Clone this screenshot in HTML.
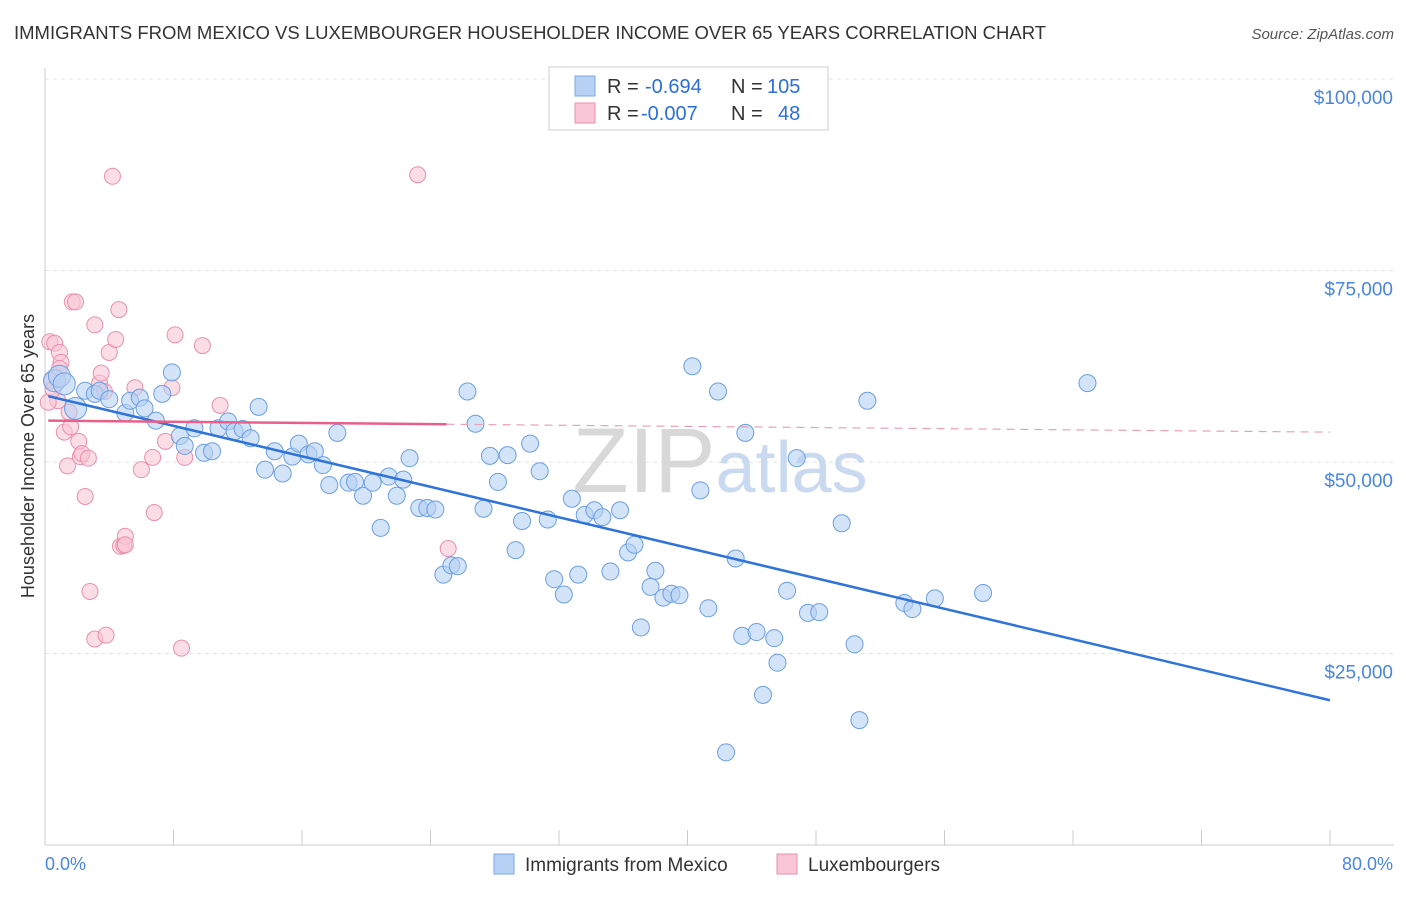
<!DOCTYPE html>
<html><head><meta charset="utf-8"><style>
body{margin:0;background:#fff;font-family:"Liberation Sans",sans-serif;}
svg text{font-family:"Liberation Sans",sans-serif;}
</style></head><body>
<svg id="c" width="1406" height="892">
<text x="14" y="39" font-size="18.5" fill="#333">IMMIGRANTS FROM MEXICO VS LUXEMBOURGER HOUSEHOLDER INCOME OVER 65 YEARS CORRELATION CHART</text>
<text x="1394" y="39" font-size="15" fill="#555" font-style="italic" text-anchor="end">Source: ZipAtlas.com</text>
<text x="34" y="456" font-size="18" fill="#333" text-anchor="middle" transform="rotate(-90 34 456)">Householder Income Over 65 years</text>
<g id="grid"></g>
<text x="720" y="492" font-size="92" fill="#dde3ea" text-anchor="middle" font-family="Liberation Serif"><tspan fill="#d8d8d8">ZIP</tspan><tspan fill="#c9daf0" font-family="Liberation Sans" font-size="72">atlas</tspan></text>
<g id="pts"></g>
<g id="lines"></g>
<g>
<rect x="549" y="67" width="279" height="63" fill="#fff" stroke="#ccc"/>
<rect x="575" y="76" width="20" height="20" fill="#b6d1f4" stroke="#7aa7e6"/>
<rect x="575" y="103" width="20" height="20" fill="#f8c6d6" stroke="#eb8fae"/>
<text y="93" font-size="20" fill="#333"><tspan x="607">R =</tspan><tspan x="645" fill="#2a6fdb">-0.694</tspan><tspan x="731">N =</tspan><tspan x="767" fill="#2a6fdb">105</tspan></text>
<text y="120" font-size="20" fill="#333"><tspan x="607">R =</tspan><tspan x="641" fill="#2a6fdb">-0.007</tspan><tspan x="731">N =</tspan><tspan x="778" fill="#2a6fdb">48</tspan></text>
</g>
<g>
<rect x="494" y="854" width="20" height="20" fill="#b6d1f4" stroke="#7aa7e6"/>
<text x="525" y="871" font-size="19" fill="#333">Immigrants from Mexico</text>
<rect x="777" y="854" width="20" height="20" fill="#f8c6d6" stroke="#eb8fae"/>
<text x="808" y="871" font-size="19" fill="#333">Luxembourgers</text>
</g>
<text x="45" y="870" font-size="18" fill="#4a86e0">0.0%</text>
<text x="1393" y="870" font-size="18" fill="#4a86e0" text-anchor="end">80.0%</text>
</svg>
<script>
const yTicks=[25000,50000,75000,100000];
const yTickLabels=["$25,000","$50,000","$75,000","$100,000"];
const blueX=[0.6,0.9,1.2,1.9,2.5,3.1,3.4,4.0,5.0,5.3,5.9,6.2,6.9,7.3,7.9,8.4,8.7,9.3,9.9,10.4,10.8,11.4,11.8,12.3,12.8,13.3,13.7,14.3,14.8,15.4,15.8,16.4,16.8,17.3,17.7,18.2,18.9,19.3,19.8,20.4,20.9,21.4,21.9,22.3,22.7,23.3,23.8,24.3,24.8,25.3,25.7,26.3,26.8,27.3,27.7,28.2,28.8,29.3,29.7,30.2,30.8,31.3,31.7,32.3,32.8,33.2,33.6,34.2,34.7,35.2,35.8,36.3,36.7,37.1,37.7,38.0,38.5,39.0,39.5,40.3,40.8,41.3,41.9,42.4,43.0,43.4,43.6,44.3,44.7,45.4,45.6,46.2,46.8,47.5,48.2,49.6,50.4,50.7,51.2,53.5,54.0,55.4,58.4,64.9];
const blueY=[60600,61200,60200,57000,59300,58900,59300,58200,56400,58000,58400,57000,55400,58900,61700,53400,52100,54400,51200,51400,54400,55300,54000,54300,53100,57200,49000,51400,48500,50700,52400,51000,51400,49600,47000,53800,47300,47400,45600,47300,41400,48100,45600,47700,50500,44000,44000,43800,35300,36500,36400,59200,55000,43900,50800,47400,50900,38500,42300,52400,48800,42500,34700,32700,45200,35300,43100,43700,42800,35700,43700,38200,39200,28400,33700,35800,32300,32800,32600,62500,46300,30900,59200,12100,37400,27300,53800,27800,19600,27000,23800,33200,50500,30300,30400,42000,26200,16300,58000,31600,30800,32200,32900,60300];
const pinkX=[0.3,0.6,0.4,0.8,0.9,1.0,1.2,1.4,1.6,1.7,1.9,2.1,2.2,2.3,2.5,2.7,2.8,3.1,3.1,3.4,3.5,3.8,4.0,4.2,4.4,4.6,4.7,4.9,5.0,5.0,5.6,6.0,6.7,6.8,7.5,7.9,8.1,8.5,8.7,9.8,10.9,23.2,25.1,0.2,0.5,1.5,3.7,0.9];
const pinkY=[65700,65500,60600,58000,64300,63000,53900,49500,54600,70900,70900,52700,50700,51100,45500,50500,33100,67900,26900,60300,61600,27400,64300,87300,66000,69900,39000,39100,40300,39200,59700,49000,50600,43400,52700,59700,66600,25700,50600,65200,57400,87500,38700,57800,59500,56500,59200,62200];
const blueTrend=[58700,18900];
const pinkTrend=[55400,53900];
const xs=v=>45+v*(1285/80);
const ys=v=>845-v*(766/100000);
const NS="http://www.w3.org/2000/svg";
const grid=document.getElementById('grid');
function mk(tag,attrs,parent){const e=document.createElementNS(NS,tag);for(const k in attrs)e.setAttribute(k,attrs[k]);parent.appendChild(e);return e;}
yTicks.forEach((t,i)=>{
  const l=mk('line',{x1:45,x2:1394,y1:ys(t),y2:ys(t),stroke:'#e2e2e2','stroke-dasharray':'4,4'},grid);
  
  
  const tx=mk('text',{x:1393,y:ys(t)+25,'font-size':19,fill:'#4a86e0','text-anchor':'end'},grid);
  tx.textContent=yTickLabels[i];
  
  
});
mk('line',{x1:45,x2:45,y1:68,y2:845,stroke:'#ccc'},grid);
mk('line',{x1:45,x2:1394,y1:845,y2:845,stroke:'#ccc'},grid);
for(let i=0;i<=10;i++){const x=45+i*128.5;const t=mk('line',{x1:x,x2:x,y1:830,y2:845,stroke:'#ccc'},grid);

}
const pts=document.getElementById('pts');
pinkX.forEach((v,i)=>{const c=mk('circle',{cx:xs(v),cy:ys(pinkY[i]),r:8,fill:'#f8c6d6','fill-opacity':0.6,stroke:'#eb8fae','stroke-width':1},pts);

});
blueX.forEach((v,i)=>{const c=mk('circle',{cx:xs(v),cy:ys(blueY[i]),r:(i<4?11:8.5),fill:'#b6d1f4','fill-opacity':0.6,stroke:'#6c9fe3','stroke-width':1},pts);

});
const ln=document.getElementById('lines');
const bAt=x=>blueTrend[0]+(blueTrend[1]-blueTrend[0])*x/80;
const pAt=x=>pinkTrend[0]+(pinkTrend[1]-pinkTrend[0])*x/80;
const bl=mk('line',{x1:xs(0.2),y1:ys(bAt(0.2)),x2:xs(80),y2:ys(bAt(80)),stroke:'#2f74d8','stroke-width':2.5},ln);


const pl=mk('line',{x1:xs(0.2),y1:ys(pAt(0.2)),x2:xs(25),y2:ys(pAt(25)),stroke:'#e8608a','stroke-width':2.5},ln);


const pd=mk('line',{x1:xs(25),y1:ys(pAt(25)),x2:xs(80),y2:ys(pAt(80)),stroke:'#e8a0b6','stroke-width':1.2,'stroke-dasharray':'8,6'},ln);


</script>
</body></html>
